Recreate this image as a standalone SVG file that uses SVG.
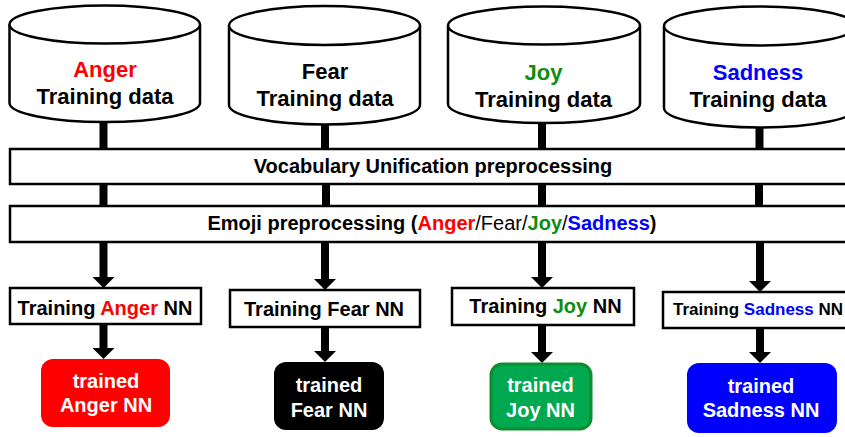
<svg xmlns="http://www.w3.org/2000/svg" width="845" height="437" viewBox="0 0 845 437">
  <style>
    text { font-family: "Liberation Sans", Arial, sans-serif; font-weight: bold; fill: #000; }
    .cyl { fill: #fff; stroke: #000; stroke-width: 2.5; }
    .box { fill: #fff; stroke: #000; stroke-width: 2.5; }
    .big { font-size: 22px; }
    .mid { font-size: 20px; }
    .c { text-anchor: middle; }
    .w { fill: #fff; }
    .anger { fill: #ff0000; }
    .joy { fill: #108c10; }
    .sad { fill: #0000ff; }
    .reg { font-weight: normal; }
    .arrow { fill: #000; }
  </style>
  <defs>
    <!-- block arrow pointing down, tip at origin -->
    <path id="head" d="M-11,-11 L11,-11 L0,0 Z" fill="#000"/>
  </defs>

  <rect width="845" height="437" fill="#fff"/>

  <!-- connectors -->
  <g id="connectors">
    <!-- cylinder to vocabulary bar -->
    <rect x="99.5" y="118" width="8" height="32"/>
    <rect x="321" y="120" width="8" height="30"/>
    <rect x="538" y="118" width="8" height="32"/>
    <rect x="755.5" y="122" width="8" height="28"/>
    <!-- vocabulary bar to emoji bar -->
    <rect x="99.5" y="183" width="8" height="24"/>
    <rect x="322" y="183" width="8" height="24"/>
    <rect x="538" y="183" width="8" height="24"/>
    <rect x="755" y="183" width="8" height="24"/>
    <!-- emoji bar to training boxes -->
    <rect x="99.5" y="241" width="8" height="37"/>
    <use href="#head" x="103.5" y="288"/>
    <rect x="321" y="241" width="8" height="39"/>
    <use href="#head" x="325" y="290"/>
    <rect x="538" y="241" width="8" height="37"/>
    <use href="#head" x="542" y="288"/>
    <rect x="756" y="241" width="8" height="41"/>
    <use href="#head" x="760" y="292"/>
    <!-- training boxes to trained networks -->
    <rect x="99.5" y="323" width="8" height="26"/>
    <use href="#head" x="103.5" y="359"/>
    <rect x="321" y="326" width="8" height="26"/>
    <use href="#head" x="325" y="362"/>
    <rect x="538" y="324" width="8" height="29"/>
    <use href="#head" x="542" y="363"/>
    <rect x="756" y="327" width="8" height="26"/>
    <use href="#head" x="760" y="363"/>
  </g>

  <!-- training data stores -->
  <g id="data-anger">
    <path class="cyl" d="M9.5,24.5 L9.5,103 A95.25,19 0 0 0 200,103 L200,24.5"/>
    <ellipse class="cyl" cx="104.75" cy="24.5" rx="95.25" ry="19"/>
    <text class="big c anger" x="105" y="77">Anger</text>
    <text class="big c" x="105" y="104">Training data</text>
  </g>
  <g id="data-fear">
    <path class="cyl" d="M229,25.5 L229,105 A95.5,19.5 0 0 0 420,105 L420,25.5"/>
    <ellipse class="cyl" cx="324.5" cy="25.5" rx="95.5" ry="19.5"/>
    <text class="big c" x="325" y="79">Fear</text>
    <text class="big c" x="325" y="106">Training data</text>
  </g>
  <g id="data-joy">
    <path class="cyl" d="M448,25.5 L448,104 A96,19 0 0 0 640,104 L640,25.5"/>
    <ellipse class="cyl" cx="544" cy="25.5" rx="96" ry="19"/>
    <text class="big c joy" x="543.5" y="80">Joy</text>
    <text class="big c" x="543.5" y="107">Training data</text>
  </g>
  <g id="data-sadness">
    <path class="cyl" d="M664,26 L664,108 A96,19.5 0 0 0 856,108 L856,26"/>
    <ellipse class="cyl" cx="760" cy="26" rx="96" ry="19.5"/>
    <text class="big c sad" x="758" y="80">Sadness</text>
    <text class="big c" x="758" y="107">Training data</text>
  </g>

  <!-- preprocessing stages -->
  <g id="vocab-unification">
    <rect class="box" x="10" y="149" width="850" height="35"/>
    <text class="mid c" x="433" y="173">Vocabulary Unification preprocessing</text>
  </g>
  <g id="emoji-preprocessing">
    <rect class="box" x="10" y="206" width="850" height="36"/>
    <text class="mid c" x="432" y="230">Emoji preprocessing (<tspan class="anger">Anger</tspan><tspan class="reg">/Fear/</tspan><tspan class="joy">Joy</tspan><tspan class="reg">/</tspan><tspan class="sad">Sadness</tspan>)</text>
  </g>

  <!-- training steps -->
  <g id="train-anger">
    <rect class="box" x="10" y="288" width="191" height="36"/>
    <text class="mid c" x="105" y="315">Training <tspan class="anger">Anger</tspan> NN</text>
  </g>
  <g id="train-fear">
    <rect class="box" x="230" y="290" width="190" height="37"/>
    <text class="mid c" x="324" y="316">Training Fear NN</text>
  </g>
  <g id="train-joy">
    <rect class="box" x="452" y="288" width="182" height="37"/>
    <text class="mid c" x="545.5" y="313">Training <tspan class="joy">Joy</tspan> NN</text>
  </g>
  <g id="train-sadness">
    <rect class="box" x="663" y="292" width="200" height="36"/>
    <text x="673" y="315" font-size="17">Training <tspan class="sad">Sadness</tspan> NN</text>
  </g>

  <!-- trained networks -->
  <g id="nn-anger">
    <rect x="41" y="359" width="129" height="68" rx="12" fill="#ff0000"/>
    <text class="mid c w" x="106" y="388">trained</text>
    <text class="mid c w" x="106" y="412">Anger NN</text>
  </g>
  <g id="nn-fear">
    <rect x="274" y="362" width="110" height="68" rx="12" fill="#000"/>
    <text class="mid c w" x="329" y="392">trained</text>
    <text class="mid c w" x="329" y="417">Fear NN</text>
  </g>
  <g id="nn-joy">
    <rect x="491" y="364" width="100" height="65" rx="11" fill="#00a84f" stroke="#0e8c30" stroke-width="3"/>
    <text class="mid c w" x="540.5" y="392">trained</text>
    <text class="mid c w" x="540.5" y="417">Joy NN</text>
  </g>
  <g id="nn-sadness">
    <rect x="687" y="363" width="150" height="70" rx="12" fill="#0000ff"/>
    <text class="mid c w" x="761" y="393">trained</text>
    <text class="mid c w" x="761" y="417">Sadness NN</text>
  </g>
</svg>
